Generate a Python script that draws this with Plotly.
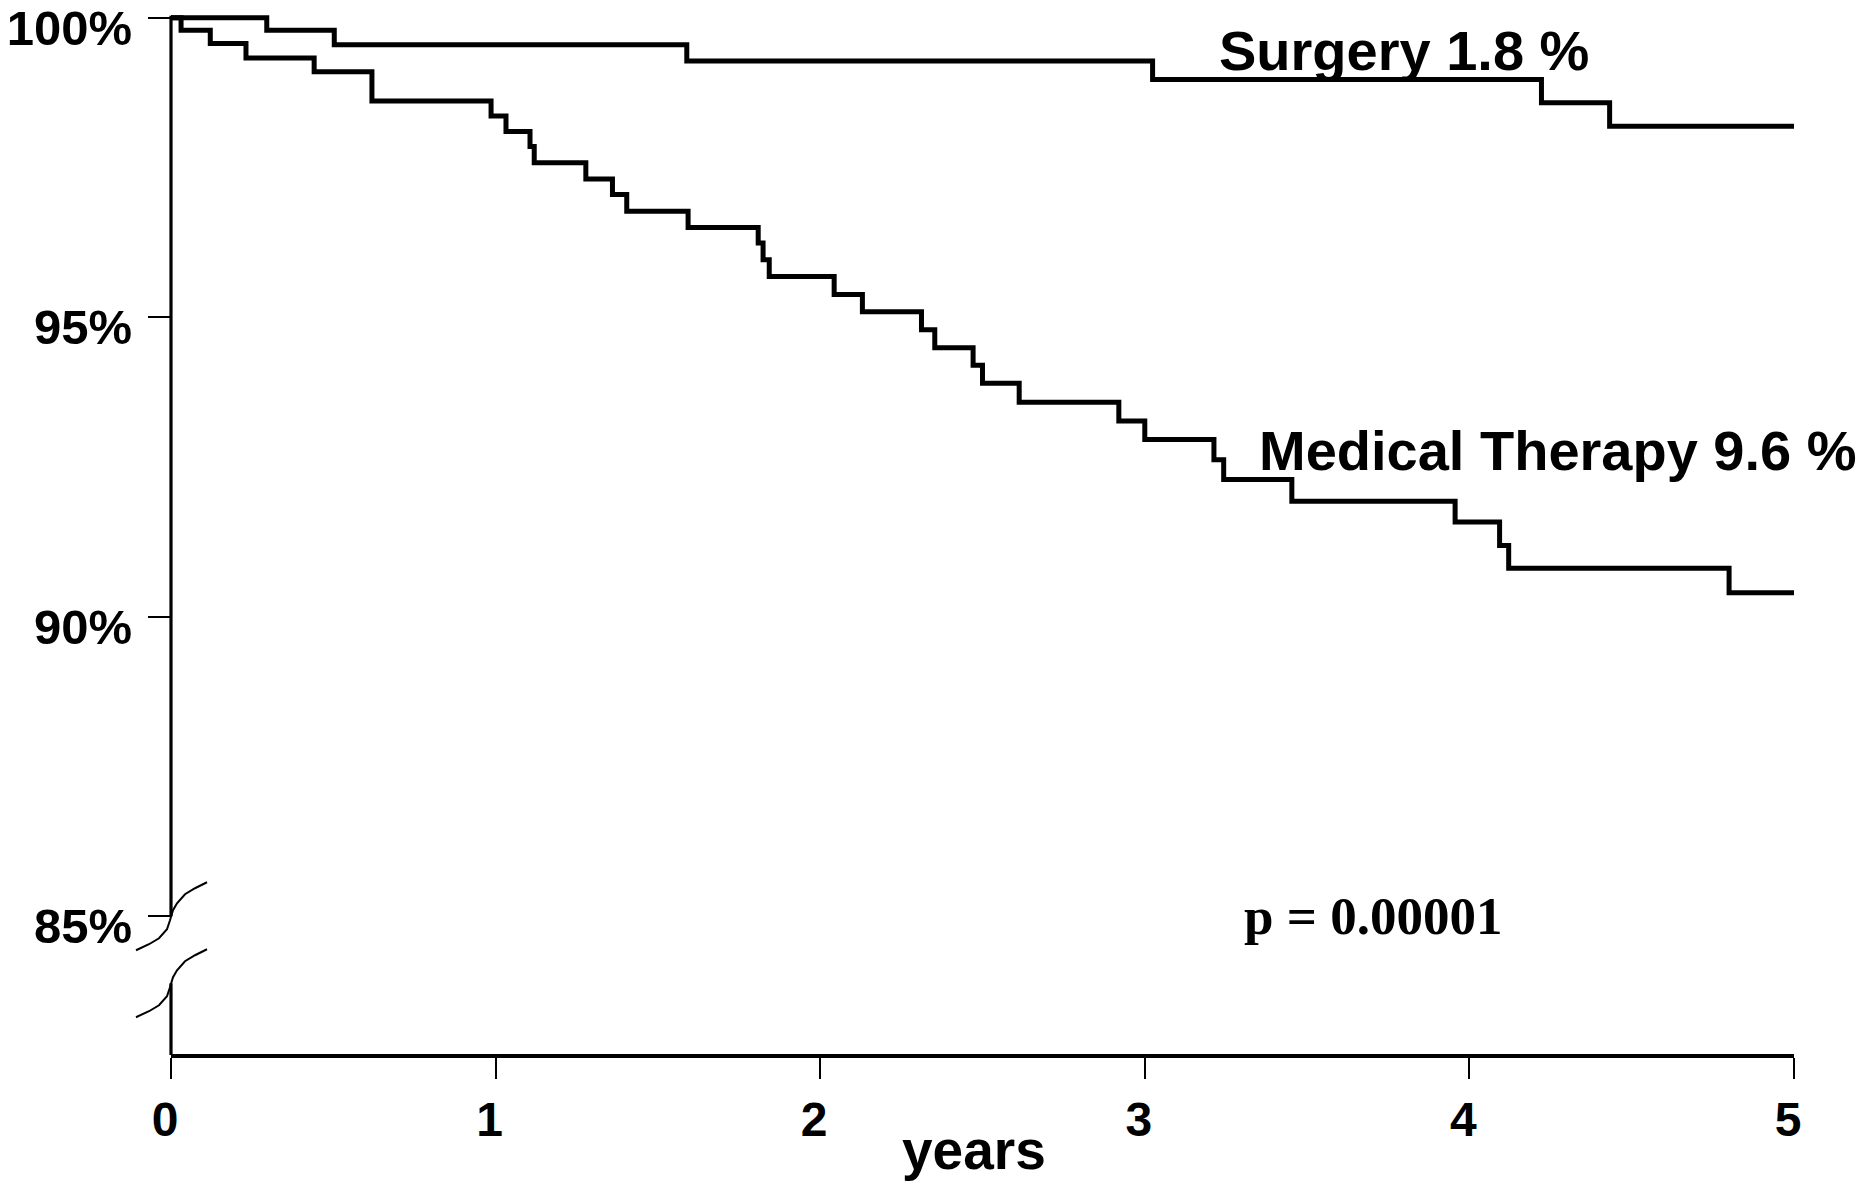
import plotly.graph_objects as go

# ---- data ----
surgery_years = [0, 0.295, 0.503, 1.589, 3.024, 4.222, 4.432, 5.0]
surgery_surv = [100, 99.79, 99.55, 99.28, 98.97, 98.58, 98.19, 98.19]

medical_years = [0, 0.031, 0.121, 0.231, 0.441, 0.619, 0.986, 1.032, 1.106, 1.119,
                 1.278, 1.360, 1.404, 1.593, 1.809, 1.824, 1.843, 2.043, 2.130, 2.312,
                 2.353, 2.471, 2.500, 2.613, 2.920, 3.000, 3.213, 3.243, 3.453, 3.956,
                 4.093, 4.121, 4.80, 5.0]
medical_surv = [100, 99.79, 99.57, 99.33, 99.10, 98.61, 98.36, 98.10, 97.85, 97.58,
                97.31, 97.05, 96.77, 96.50, 96.24, 95.96, 95.68, 95.38, 95.09, 94.79,
                94.49, 94.20, 93.90, 93.58, 93.27, 92.96, 92.62, 92.29, 91.93, 91.58,
                91.19, 90.81, 90.40, 90.40]

x_ticks = [0, 1, 2, 3, 4, 5]
x_ticklabels = ["0", "1", "2", "3", "4", "5"]
y_ticks = [85, 90, 95, 100]
y_ticklabels = ["85%", "90%", "95%", "100%"]

surgery_label = "Surgery 1.8 %"
medical_label = "Medical Therapy 9.6 %"
p_label = "p = 0.00001"
x_title = "years"

# ---- layout constants ----
YMIN, YMAX = 82.70, 100.28
BREAK_Y = 85.0
BREAK_LOW = 83.88

SANS = "Liberation Sans, Arial, sans-serif"
SERIF = "Liberation Serif, Times New Roman, serif"


def fy(v):
    return (v - YMIN) / (YMAX - YMIN)


fig = go.Figure()
fig.add_trace(go.Scatter(x=surgery_years, y=surgery_surv, mode="lines",
                         line=dict(color="black", width=5, shape="hv"),
                         showlegend=False, hoverinfo="skip"))
fig.add_trace(go.Scatter(x=medical_years, y=medical_surv, mode="lines",
                         line=dict(color="black", width=5, shape="hv"),
                         showlegend=False, hoverinfo="skip"))

shapes = [
    # y axis, upper part
    dict(type="line", xref="paper", yref="paper", x0=0, x1=0,
         y0=fy(BREAK_Y), y1=fy(100) + 0.002, line=dict(color="black", width=3.2)),
    # y axis, lower part
    dict(type="line", xref="paper", yref="paper", x0=0, x1=0,
         y0=-0.001, y1=fy(BREAK_LOW), line=dict(color="black", width=3.2)),
    # break marks
    dict(type="path", xref="paper", yref="paper", xsizemode="pixel", ysizemode="pixel",
         xanchor=0, yanchor=fy(BREAK_Y),
         path="M-35,-34 L-22,-28 L-12,-22 L-4,-13 L-1,-4 L2,6 L6,13 L14,22 L24,28 L36,34",
         line=dict(color="black", width=2)),
    dict(type="path", xref="paper", yref="paper", xsizemode="pixel", ysizemode="pixel",
         xanchor=0, yanchor=fy(BREAK_Y),
         path="M-35,-101 L-22,-95 L-12,-89 L-4,-80 L-1,-71 L2,-61 L6,-54 L14,-45 L24,-39 L36,-33",
         line=dict(color="black", width=2)),
]

annotations = [
    dict(x=3.222, y=99.45, xref="x", yref="y", text=surgery_label, showarrow=False,
         xanchor="left", yanchor="middle",
         font=dict(family=SANS, size=56, color="black", weight="bold")),
    dict(x=3.345, y=92.775, xref="x", yref="y", text=medical_label, showarrow=False,
         xanchor="left", yanchor="middle",
         font=dict(family=SANS, size=56, color="black", weight="bold")),
    dict(x=3.298, y=85.0, xref="x", yref="y", text=p_label, showarrow=False,
         xanchor="left", yanchor="middle",
         font=dict(family=SERIF, size=53, color="black", weight="bold")),
    dict(x=0.495, y=-0.0912, xref="paper", yref="paper", text=x_title, showarrow=False,
         xanchor="center", yanchor="middle",
         font=dict(family=SANS, size=55, color="black", weight="bold")),
]

fig.update_layout(
    width=1871, height=1186,
    margin=dict(l=171, r=77, t=1, b=132, pad=0),
    paper_bgcolor="white", plot_bgcolor="white",
    shapes=shapes, annotations=annotations,
    xaxis=dict(range=[0, 5], tickvals=x_ticks, ticktext=x_ticklabels,
               showline=True, linecolor="black", linewidth=3.5,
               ticks="outside", ticklen=21, tickwidth=2, tickcolor="black",
               showgrid=False, zeroline=False, ticklabelshift=-6,
               tickfont=dict(family=SANS, size=48, color="black", weight="bold")),
    yaxis=dict(range=[YMIN, YMAX], tickvals=y_ticks, ticktext=y_ticklabels,
               showline=False, ticks="outside", ticklen=22, tickwidth=1.5,
               tickcolor="black", showgrid=False, zeroline=False,
               ticklabelshift=10, ticklabelstandoff=6,
               tickfont=dict(family=SANS, size=49, color="black", weight="bold")),
)

fig.write_html("out.html")
